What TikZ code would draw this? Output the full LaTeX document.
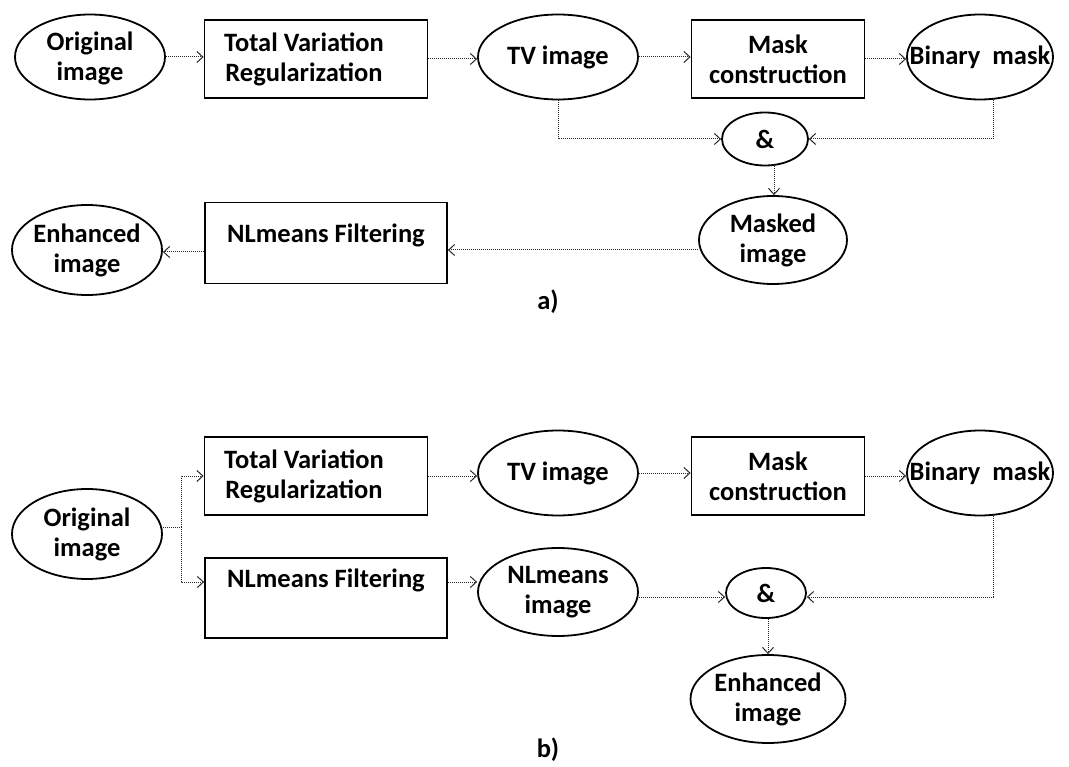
\documentclass[tikz,border=0pt]{standalone}
\usepackage{fontspec}
\setmainfont{Carlito}
\usetikzlibrary{shapes.geometric,arrows.meta}
\begin{document}
\begin{tikzpicture}[x=1pt,y=-1pt,
 every node/.style={font=\fontsize{26.5}{30}\selectfont\bfseries, align=center, inner sep=0pt},
 ell/.style={ellipse, draw=black, line width=1.8pt},
 box/.style={rectangle, draw=black, line width=1.8pt},
 conn/.style={draw=black!85, densely dotted, line width=1pt, -{Straight Barb[length=6pt,width=11pt]}},
 lin/.style={draw=black!85, densely dotted, line width=1pt}]
\useasboundingbox (0,0) rectangle (1069,767);
% ---------- a) ----------
\node[ell, minimum width=150pt, minimum height=85pt, label={[yshift=-1pt]center:{Original\\image}}] (oa) at (90,57) {};
\node[box, minimum width=223pt, minimum height=78pt, label={[xshift=-12pt]center:{Total Variation\\Regularization}}] (tva) at (316,59) {};
\node[ell, minimum width=160pt, minimum height=85pt, label=center:{TV image}] (tia) at (558,57) {};
\node[box, minimum width=173pt, minimum height=78pt, label=center:{Mask\\construction}] (mca) at (778,59) {};
\node[ell, minimum width=146pt, minimum height=85pt, label=center:{Binary\ \ mask}] (bma) at (980,57) {};
\node[ell, minimum width=86pt, minimum height=53pt, label=center:{\&}] (anda) at (765,139) {};
\node[ell, minimum width=148pt, minimum height=88pt, label=center:{Masked\\image}] (mia) at (773,240) {};
\node[box, minimum width=242pt, minimum height=81pt, label={[yshift=8pt]center:{NLmeans Filtering}}] (nla) at (326,243) {};
\node[ell, minimum width=150pt, minimum height=90pt, label=center:{Enhanced\\image}] (eia) at (87,250) {};
\node (la) at (548,302) {a)};
\draw[conn] (oa.east) -- (oa.east -| tva.west);
\draw[conn] (tva.east) -- (tva.east -| tia.west);
\draw[conn] (tia.east) -- (tia.east -| mca.west);
\draw[conn] (mca.east) -- (mca.east -| bma.west);
\draw[conn] (tia.south) |- (anda.west);
\draw[conn] (bma.south -| 993,0) |- (anda.east);
\draw[conn] (anda.south -| 774,0) -- (mia.north -| 774,0);
\draw[conn] (mia.west |- 0,250) -- (nla.east |- 0,250);
\draw[conn] (nla.west |- 0,252) -- (eia.east |- 0,252);
% ---------- b) ----------
\node[ell, minimum width=150pt, minimum height=90pt, label=center:{Original\\image}] (ob) at (87,534) {};
\node[box, minimum width=223pt, minimum height=78pt, label={[xshift=-12pt]center:{Total Variation\\Regularization}}] (tvb) at (316,476) {};
\node[ell, minimum width=160pt, minimum height=85pt, label=center:{TV image}] (tib) at (558,473) {};
\node[box, minimum width=173pt, minimum height=78pt, label=center:{Mask\\construction}] (mcb) at (778,476) {};
\node[ell, minimum width=146pt, minimum height=85pt, label=center:{Binary\ \ mask}] (bmb) at (980,473) {};
\node[box, minimum width=242pt, minimum height=80pt, label={[yshift=18pt]center:{NLmeans Filtering}}] (nlb) at (326,598) {};
\node[ell, minimum width=160pt, minimum height=88pt, label=center:{NLmeans\\image}] (nib) at (558,592) {};
\node[ell, minimum width=80pt, minimum height=50pt, label=center:{\&}] (andb) at (766,593) {};
\node[ell, minimum width=155pt, minimum height=88pt, label=center:{Enhanced\\image}] (eib) at (768,699) {};
\node (lb) at (548,750) {b)};
\coordinate (br) at (181,527);
\draw[lin] (ob.east |- br) -- (br);
\draw[conn] (br) |- (tvb.west |- 0,476);
\draw[conn] (br) |- (nlb.west |- 0,582);
\draw[conn] (tvb.east) -- (tvb.east -| tib.west);
\draw[conn] (tib.east) -- (tib.east -| mcb.west);
\draw[conn] (mcb.east) -- (mcb.east -| bmb.west);
\draw[conn] (nlb.east |- 0,582) -- (nib.west |- 0,582);
\draw[conn] (nib.east |- 0,597) -- (andb.west |- 0,597);
\draw[conn] (bmb.south -| 993,0) |- (andb.east |- 0,597);
\draw[conn] (andb.south -| 768,0) -- (eib.north -| 768,0);
\end{tikzpicture}
\end{document}
